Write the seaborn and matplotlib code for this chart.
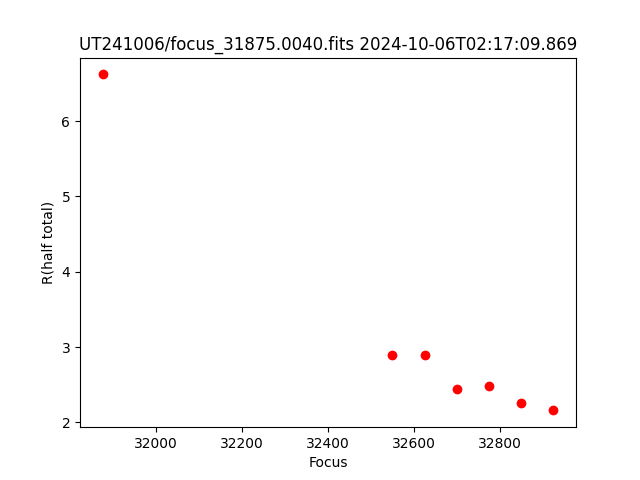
import matplotlib
matplotlib.use("Agg")
import matplotlib.pyplot as plt
import seaborn as sns
import pandas as pd

# focus positions and measured half-total radius
focus = [31875, 32550, 32625, 32700, 32775, 32850, 32925]
r_half = [6.62, 2.89, 2.89, 2.45, 2.49, 2.26, 2.16]

title = "UT241006/focus_31875.0040.fits 2024-10-06T02:17:09.869"

df = pd.DataFrame({"Focus": focus, "R(half total)": r_half})

fig, ax = plt.subplots(figsize=(6.4, 4.8), dpi=100)
sns.scatterplot(data=df, x="Focus", y="R(half total)", color="red",
                s=36, linewidth=1, edgecolor="red", ax=ax)
ax.set_title(title)
ax.set_xlabel("Focus")
ax.set_ylabel("R(half total)")
fig.savefig("out.png", dpi=100)
